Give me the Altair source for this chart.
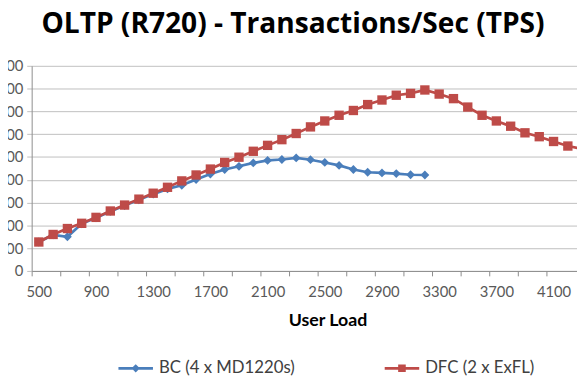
import altair as alt
import pandas as pd

# ---- data ----
blue_name = "BC (4 x MD1220s)"
red_name = "DFC (2 x ExFL)"

blue_users = list(range(500, 3201, 100))
blue_tps = [635, 790, 750, 1035, 1165, 1305, 1435, 1560, 1685, 1800, 1880, 2005,
            2125, 2225, 2295, 2370, 2425, 2445, 2480, 2440, 2380, 2315, 2225,
            2165, 2150, 2135, 2110, 2105]

red_users = list(range(500, 4301, 100))
red_tps = [635, 800, 930, 1045, 1175, 1315, 1445, 1575, 1705, 1835, 1975, 2105,
           2235, 2380, 2495, 2625, 2755, 2880, 3015, 3160, 3290, 3415, 3520,
           3650, 3750, 3855, 3895, 3970, 3880, 3780, 3595, 3415, 3290, 3175,
           3030, 2945, 2840, 2740, 2675]

x_tick_values = list(range(500, 4201, 200))
y_tick_values = list(range(0, 4501, 500))

blue_color = "#4A7EBB"
red_color = "#BE4B48"

df = pd.DataFrame({
    "users": blue_users + red_users,
    "tps": blue_tps + red_tps,
    "series": [blue_name] * len(blue_users) + [red_name] * len(red_users),
})

FONT = "Lato"
grid_c = "#BFBFBF"
axis_c = "#8C8C8C"

x_enc = alt.X(
    "users:Q",
    scale=alt.Scale(domain=[450, 4264], nice=False, zero=False),
    axis=alt.Axis(
        values=x_tick_values, format="d", tickOffset=-7.25, labelOffset=7.25,
        labelExpr="(datum.value - 500) % 400 == 0 ? datum.label : ''",
        grid=False, tickSize=5, tickColor=axis_c, domainColor=axis_c,
        labelFont=FONT, labelFontSize=15, labelColor="#595959", labelPadding=9,
        labelOverlap=False, labelFlush=False,
        title="User Load", titleFont=FONT, titleFontSize=18, titleFontWeight="bold",
        titleColor="#000000", titleX=300, titleY=55, titleBaseline="alphabetic",
        titleAlign="center", titleAnchor="start",
    ),
)
y_enc = alt.Y(
    "tps:Q",
    scale=alt.Scale(domain=[0, 4500], nice=False),
    axis=alt.Axis(
        values=y_tick_values, format="d", grid=True, gridColor=grid_c,
        tickSize=5, tickColor=grid_c, domainColor=axis_c,
        labelFont=FONT, labelFontSize=15, labelColor="#595959", labelPadding=4,
        labelFlush=False, title=None,
    ),
)

base = alt.Chart(df).encode(x=x_enc, y=y_enc)

blue_layer = base.transform_filter(alt.datum.series == blue_name).mark_line(
    color=blue_color, strokeWidth=2.7,
    point=alt.OverlayMarkDef(shape="diamond", size=80, filled=True, color=blue_color),
)
red_layer = base.transform_filter(alt.datum.series == red_name).mark_line(
    color=red_color, strokeWidth=2.7,
    point=alt.OverlayMarkDef(shape="square", size=90, filled=True, color=red_color),
)

path_blue = "M-1,-0.08H1V0.08H-1Z M0,-0.24L0.24,0L0,0.24L-0.24,0Z"
path_red = "M-1,-0.08H1V0.08H-1Z M-0.22,-0.22H0.22V0.22H-0.22Z"

legend = alt.Legend(
    orient="none", legendX=88, legendY=289, direction="horizontal", title=None,
    symbolSize=1225, symbolStrokeWidth=0, labelFont=FONT, labelFontSize=17,
    labelColor="#404040", labelOffset=6, columnPadding=91, padding=0,
)
legend_layer = base.transform_filter("datum.users < 0").mark_point(
    filled=True, opacity=1
).encode(
    color=alt.Color("series:N", scale=alt.Scale(domain=[blue_name, red_name],
                                                range=[blue_color, red_color]),
                    legend=legend),
    shape=alt.Shape("series:N", scale=alt.Scale(domain=[blue_name, red_name],
                                                range=[path_blue, path_red]),
                    legend=legend),
)

chart = alt.layer(blue_layer, red_layer, legend_layer).properties(
    width=553, height=208,
    padding={"left": 24, "top": 56, "right": 0, "bottom": 110},
    autosize=alt.AutoSizeParams(type="none"),
    title=alt.TitleParams(
        text="OLTP (R720) - Transactions/Sec (TPS)", font="Open Sans", fontSize=28.5,
        fontWeight="bold", color="#000000", anchor="middle", frame="group",
        dx=-11.5, offset=21,
    ),
).configure_view(strokeWidth=0)

chart.save("out.html", embed_options={"renderer": "svg", "actions": False})
